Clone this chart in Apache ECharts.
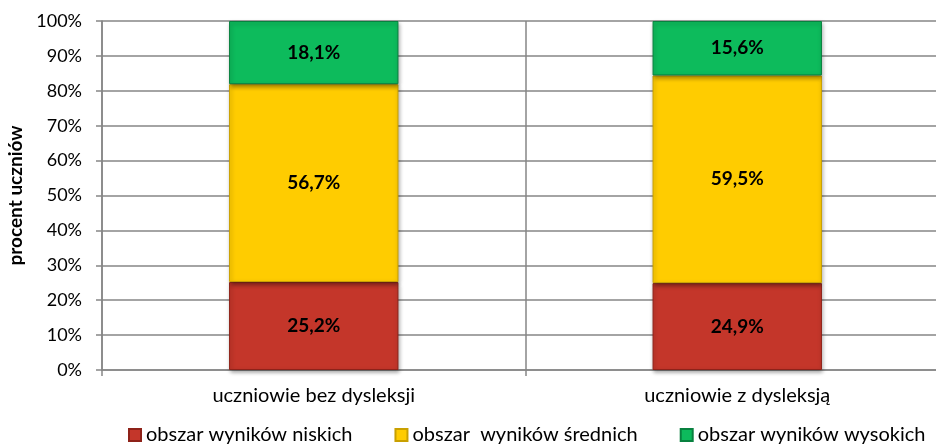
<!DOCTYPE html>
<html>
<head>
<meta charset="utf-8">
<script src="https://cdn.jsdelivr.net/npm/echarts@6/dist/echarts.min.js"></script>
<style>
  html, body { margin: 0; padding: 0; background: #fff; }
  #chart { width: 936px; height: 447px; }
</style>
</head>
<body>
<div id="chart"></div>
<script>
// data
const categories = ['uczniowie bez dysleksji', 'uczniowie z dysleksją'];
const seriesNames = ['obszar wyników niskich', 'obszar  wyników średnich', 'obszar wyników wysokich'];
const lowValues = [25.2, 24.9];
const midValues = [56.7, 59.5];
const highValues = [18.1, 15.6];

const font = 'Lato, "Open Sans", sans-serif';
const colors = ['#C4362A', '#FFCC00', '#0DBB5C'];
const borders = ['#8E2219', '#C9A000', '#08813F'];

const fmt = p => p.value.toFixed(1).replace('.', ',') + '%';

function makeSeries(name, data, i) {
    return {
        name,
        type: 'bar',
        stack: 'total',
        barWidth: '40%',
        data,
        itemStyle: {
            color: colors[i],
            borderColor: borders[i],
            borderWidth: 1,
            shadowColor: 'rgba(0,0,0,0.35)',
            shadowBlur: 4,
            shadowOffsetX: 1,
            shadowOffsetY: 2
        },
        label: {
            show: true,
            position: 'inside',
            formatter: fmt,
            color: '#000',
            fontWeight: 'bold',
            fontSize: 19,
            fontFamily: font
        }
    };
}

const myChart = echarts.init(document.getElementById('chart'));

// plot runs past the right edge of the picture, as in the original crop
myChart.setOption({
    animation: false,
    color: colors,
    grid: { left: 102, right: -13, top: 21, bottom: 77, outerBoundsMode: 'none', containLabel: false },
    legend: {
        left: 128,
        bottom: 2,
        padding: 0,
        width: 830,
        icon: 'rect',
        itemWidth: 12,
        itemHeight: 12,
        itemGap: 42,
        textStyle: { fontSize: 20, fontFamily: font, color: '#000' },
        data: seriesNames
    },
    xAxis: {
        type: 'category',
        data: categories,
        axisLine: { lineStyle: { color: '#868686', width: 1.5 } },
        axisTick: { show: true, length: 6, lineStyle: { color: '#868686', width: 1.5 } },
        splitLine: { show: true, lineStyle: { color: '#868686', width: 1.5 } },
        axisLabel: { fontSize: 20, fontFamily: font, color: '#000', margin: 16 }
    },
    yAxis: {
        type: 'value',
        min: 0,
        max: 100,
        interval: 10,
        name: 'procent uczniów',
        nameLocation: 'middle',
        nameGap: 76,
        nameTextStyle: { fontSize: 19, fontWeight: 'bold', fontFamily: font, color: '#000' },
        axisLine: { show: true, lineStyle: { color: '#868686', width: 1.5 } },
        axisTick: { show: true, length: 6, lineStyle: { color: '#868686', width: 1.5 } },
        splitLine: { lineStyle: { color: '#868686', width: 1.5 } },
        axisLabel: { fontSize: 18, fontFamily: font, color: '#000', margin: 20, formatter: '{value}%' }
    },
    series: [
        makeSeries(seriesNames[0], lowValues, 0),
        makeSeries(seriesNames[1], midValues, 1),
        makeSeries(seriesNames[2], highValues, 2)
    ]
});
</script>
</body>
</html>
